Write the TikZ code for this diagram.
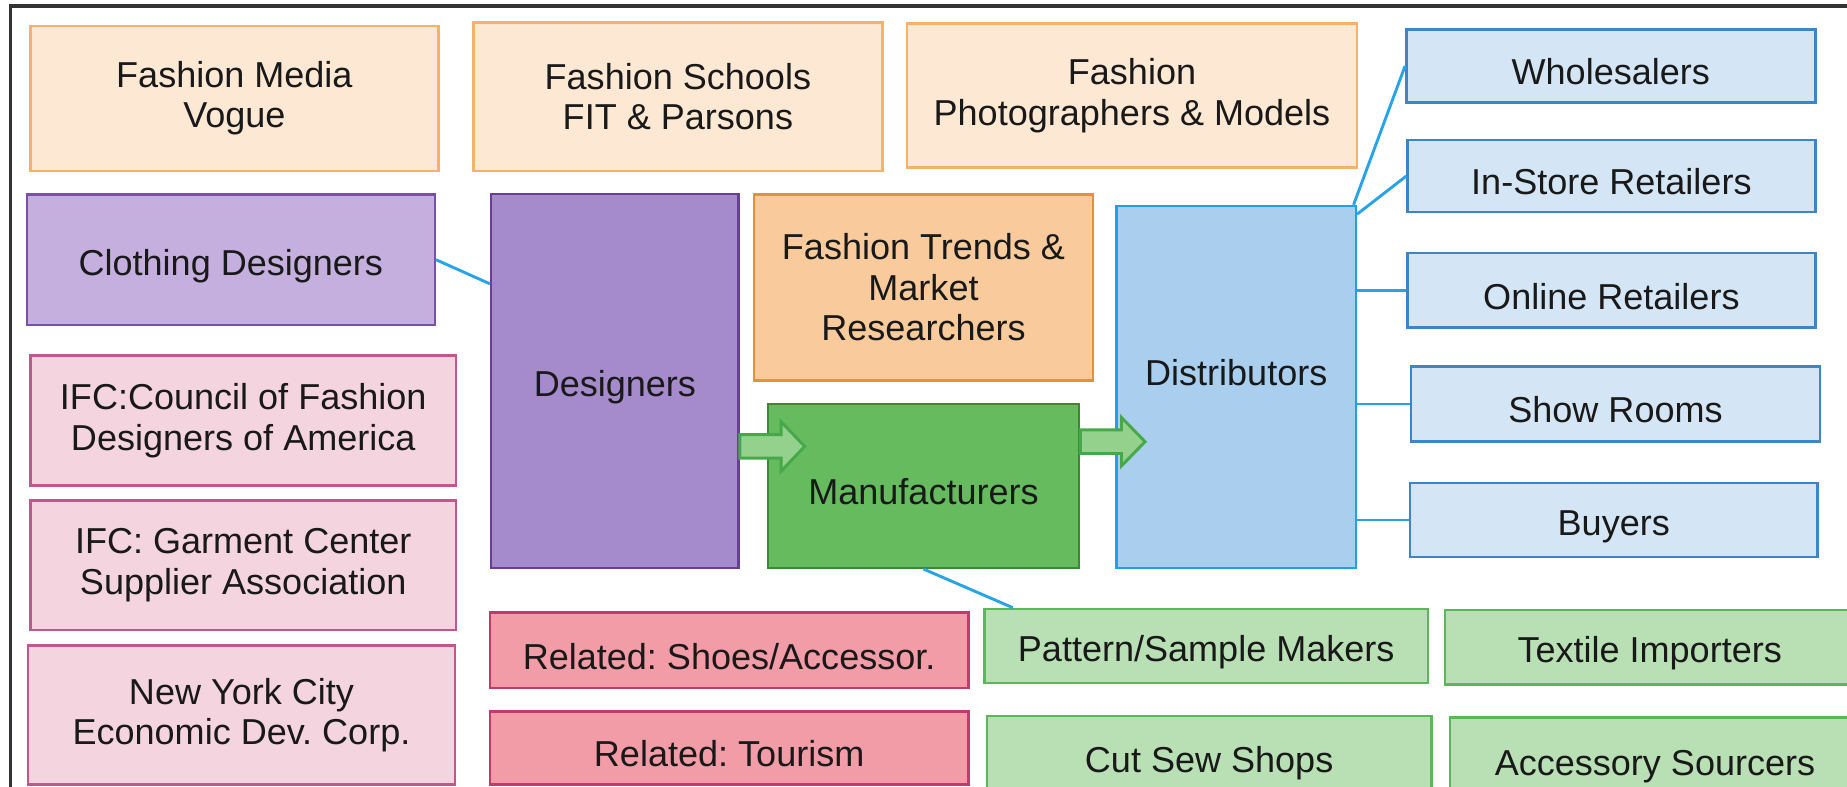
\documentclass[tikz,border=0pt]{standalone}
\usepackage{fontspec}
\setmainfont{Liberation Sans}
\frenchspacing
\definecolor{peachfill}{HTML}{FDE8D4}
\definecolor{peachline}{HTML}{F6B26B}
\definecolor{trendfill}{HTML}{F9CB9C}
\definecolor{trendline}{HTML}{E69138}
\definecolor{lilacfill}{HTML}{C4AFDF}
\definecolor{lilacline}{HTML}{7B4FA6}
\definecolor{purplefill}{HTML}{A68BCC}
\definecolor{purpleline}{HTML}{6A3D9A}
\definecolor{pinkfill}{HTML}{F4D5DF}
\definecolor{pinkline}{HTML}{C2578E}
\definecolor{rosefill}{HTML}{F29CA7}
\definecolor{roseline}{HTML}{C23B6E}
\definecolor{skyfill}{HTML}{A9CEEE}
\definecolor{skyline}{HTML}{1FA0E8}
\definecolor{paleblue}{HTML}{D4E6F5}
\definecolor{blueline}{HTML}{3D85C6}
\definecolor{greenfill}{HTML}{66BB5F}
\definecolor{greenline}{HTML}{3A8A35}
\definecolor{palegreen}{HTML}{B9E0B4}
\definecolor{mintline}{HTML}{5CB65A}
\definecolor{arrowfill}{HTML}{93D18C}
\definecolor{arrowline}{HTML}{47A84A}
\definecolor{linkblue}{HTML}{29A3E8}
\tikzset{
  box/.style={draw, line width=0.6pt, inner sep=0pt, align=center, text=black!90,
    font=\fontsize{8.7}{9.8}\selectfont, execute at begin node={\rule{0pt}{9.2pt}}},
  link/.style={draw=linkblue, line width=0.7pt},
  grarrow/.style={fill=arrowfill, draw=arrowline, line width=0.7pt, line join=miter}
}
\begin{document}
\begin{tikzpicture}[x=0.01cm,y=-0.01cm]
  \useasboundingbox (0,0) rectangle (1568,668);
  \draw[black!80, line width=0.8pt] (9,5) rectangle (1620,720);

  \node[box, fill=peachfill, draw=peachline, minimum width=3.46cm, minimum height=1.23cm] (media) at (199,83.5) {Fashion Media\\Vogue};
  \node[box, fill=peachfill, draw=peachline, minimum width=3.47cm, minimum height=1.26cm] (schools) at (575.5,82) {Fashion Schools\\FIT \& Parsons};
  \node[box, fill=peachfill, draw=peachline, minimum width=3.82cm, minimum height=1.22cm] (photo) at (961,81) {Fashion\\Photographers \& Models};

  \node[box, fill=lilacfill, draw=lilacline, minimum width=3.46cm, minimum height=1.11cm] (clothing) at (196,220.5) {Clothing Designers};
  \node[box, fill=purplefill, draw=purpleline, minimum width=2.10cm, minimum height=3.17cm] (designers) at (522,323.5) {Designers};
  \node[box, fill=trendfill, draw=trendline, minimum width=2.88cm, minimum height=1.58cm] (trends) at (784,244) {Fashion Trends \&\\Market\\Researchers};
  \node[box, fill=skyfill, draw=skyline, minimum width=2.03cm, minimum height=3.07cm,
    label={[font=\fontsize{8.7}{9.8}\selectfont, text=black!90, yshift=0.12cm]center:Distributors}] (dist) at (1049.5,328.5) {};
  \node[box, fill=greenfill, draw=greenline, minimum width=2.64cm, minimum height=1.39cm] (manu) at (784,412.5) {Manufacturers};

  \node[box, fill=paleblue, draw=blueline, minimum width=3.47cm, minimum height=0.62cm] (whole) at (1367.5,56) {Wholesalers};
  \node[box, fill=paleblue, draw=blueline, minimum width=3.46cm, minimum height=0.61cm] (instore) at (1368,149.5) {In-Store Retailers};
  \node[box, fill=paleblue, draw=blueline, minimum width=3.46cm, minimum height=0.63cm] (online) at (1368,246.5) {Online Retailers};
  \node[box, fill=paleblue, draw=blueline, minimum width=3.47cm, minimum height=0.64cm] (show) at (1371.5,343) {Show Rooms};
  \node[box, fill=paleblue, draw=blueline, minimum width=3.46cm, minimum height=0.63cm] (buyers) at (1370,441.5) {Buyers};

  \node[box, fill=pinkfill, draw=pinkline, minimum width=3.61cm, minimum height=1.10cm] (council) at (206.5,357) {IFC:Council of Fashion\\Designers of America};
  \node[box, fill=pinkfill, draw=pinkline, minimum width=3.61cm, minimum height=1.10cm] (garment) at (206.5,480) {IFC: Garment Center\\Supplier Association};
  \node[box, fill=pinkfill, draw=pinkline, minimum width=3.62cm, minimum height=1.18cm] (nyc) at (205,607) {New York City\\Economic Dev. Corp.};

  \node[box, fill=rosefill, draw=roseline, minimum width=4.06cm, minimum height=0.64cm] (shoes) at (619,552) {Related: Shoes/Accessor.};
  \node[box, fill=rosefill, draw=roseline, minimum width=4.06cm, minimum height=0.62cm] (tourism) at (619,635) {Related: Tourism};

  \node[box, fill=palegreen, draw=mintline, minimum width=3.76cm, minimum height=0.63cm] (pattern) at (1024,548.5) {Pattern/Sample Makers};
  \node[box, fill=palegreen, draw=mintline, minimum width=3.77cm, minimum height=0.70cm] (cutsew) at (1026.5,643) {Cut Sew Shops};
  \node[box, fill=palegreen, draw=mintline, minimum width=3.47cm, minimum height=0.63cm] (textile) at (1400.5,549.5) {Textile Importers};
  \node[box, fill=palegreen, draw=mintline, minimum width=3.48cm, minimum height=0.72cm] (accessory) at (1405,645) {Accessory Sourcers};

  \draw[link] (clothing.east) -- ([yshift=0.825cm]designers.west);
  \draw[link] ([xshift=-0.03cm]dist.north east) -- (whole.west);
  \draw[link] ([yshift=-0.08cm]dist.north east) -- (instore.west);
  \draw[link] (online.west -| dist.east) -- (online.west);
  \draw[link] (show.west -| dist.east) -- (show.west);
  \draw[link] (buyers.west -| dist.east) -- (buyers.west);
  \draw[link] (manu.south) -- ([xshift=0.25cm]pattern.north west);

  \coordinate (a1) at (designers.east |- 0,379);
  \coordinate (a2) at (manu.east |- 0,375);
  \draw[grarrow] (a1) ++(0,-10) -- ++(35,0) -- ++(0,-11) -- ++(20,21) -- ++(-20,21) -- ++(0,-11) -- ++(-35,0) -- cycle;
  \draw[grarrow] (a2) ++(0,-10) -- ++(35,0) -- ++(0,-10.5) -- ++(20,20.5) -- ++(-20,20.5) -- ++(0,-10.5) -- ++(-35,0) -- cycle;
\end{tikzpicture}
\end{document}
